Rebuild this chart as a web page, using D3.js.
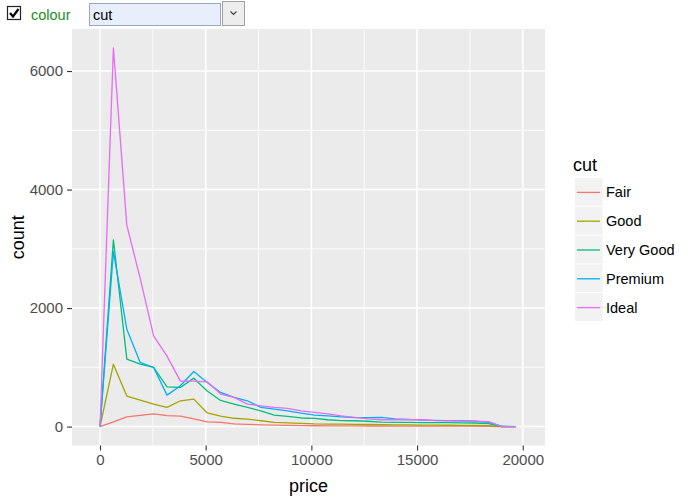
<!DOCTYPE html>
<html>
<head>
<meta charset="utf-8">
<script src="https://cdn.jsdelivr.net/npm/d3@7/dist/d3.min.js"></script>
<style>
  html, body { margin: 0; padding: 0; background: #ffffff; }
  svg { display: block; font-family: "Liberation Sans", Arial, sans-serif; }
</style>
</head>
<body>
<svg id="chart" width="693" height="501"></svg>
<script>
// ---- data ----
const cuts = ["Fair", "Good", "Very Good", "Premium", "Ideal"];
const cutColors = ["#F8766D", "#A3A500", "#00BF7D", "#00B0F6", "#E76BF3"];
const priceMids = [0, 634, 1268, 1902, 2536, 3170, 3804, 4438, 5072, 5706, 6340, 6974,
  7608, 8242, 8876, 9510, 10144, 10778, 11412, 12046, 12680, 13314, 13948, 14582,
  15216, 15850, 16484, 17118, 17752, 18386, 19020, 19654];
const fairCounts = [0, 80, 165, 190, 215, 185, 175, 130, 80, 70, 45, 38, 30, 25, 20, 15,
  14, 12, 12, 11, 10, 10, 9, 9, 8, 8, 7, 7, 6, 5, 0, 0];
const goodCounts = [0, 1053, 514, 446, 379, 323, 435, 463, 230, 175, 140, 126, 98, 71, 62, 55,
  45, 42, 40, 38, 35, 32, 30, 28, 26, 24, 22, 20, 18, 15, 0, 0];
const veryGoodCounts = [0, 3150, 1137, 1053, 997, 670, 660, 817, 600, 440, 379, 323, 266, 194, 172, 145,
  138, 115, 100, 98, 90, 75, 70, 70, 68, 66, 65, 62, 60, 50, 0, 0];
const premiumCounts = [0, 2950, 1643, 1082, 997, 531, 688, 930, 744, 576, 492, 435, 323, 295, 266, 227,
  194, 180, 165, 150, 150, 155, 130, 120, 110, 105, 100, 100, 90, 70, 5, 0];
const idealCounts = [0, 6390, 3400, 2500, 1530, 1188, 767, 767, 755, 548, 492, 379, 350, 323, 306, 266,
  239, 215, 180, 155, 130, 115, 115, 115, 115, 100, 95, 92, 90, 85, 0, 0];
const xTicks = [0, 5000, 10000, 15000, 20000];
const xMinor = [2500, 7500, 12500, 17500];
const yTicks = [0, 2000, 4000, 6000];
const yMinor = [1000, 3000, 5000];
const seriesCounts = [fairCounts, goodCounts, veryGoodCounts, premiumCounts, idealCounts];

// ---- layout ----
const svg = d3.select("#chart");
const panel = { left: 72, right: 545, top: 29, bottom: 445.5 };

const x = d3.scaleLinear().domain([-1325, 21053]).range([panel.left, panel.right]);
const yMax = d3.max(seriesCounts.flat());
const yPad = yMax * 0.05;
const y = d3.scaleLinear().domain([-yPad, yMax + yPad]).range([panel.bottom, panel.top]);

// panel background
svg.append("rect")
  .attr("x", panel.left).attr("y", panel.top)
  .attr("width", panel.right - panel.left).attr("height", panel.bottom - panel.top)
  .attr("fill", "#EBEBEB");

const grid = svg.append("g");
grid.selectAll(".xminor").data(xMinor).join("line")
  .attr("x1", d => x(d)).attr("x2", d => x(d))
  .attr("y1", panel.top).attr("y2", panel.bottom)
  .attr("stroke", "#ffffff").attr("stroke-width", 0.8);
grid.selectAll(".yminor").data(yMinor).join("line")
  .attr("y1", d => y(d)).attr("y2", d => y(d))
  .attr("x1", panel.left).attr("x2", panel.right)
  .attr("stroke", "#ffffff").attr("stroke-width", 0.8);
grid.selectAll(".xmajor").data(xTicks).join("line")
  .attr("x1", d => x(d)).attr("x2", d => x(d))
  .attr("y1", panel.top).attr("y2", panel.bottom)
  .attr("stroke", "#ffffff").attr("stroke-width", 1.6);
grid.selectAll(".ymajor").data(yTicks).join("line")
  .attr("y1", d => y(d)).attr("y2", d => y(d))
  .attr("x1", panel.left).attr("x2", panel.right)
  .attr("stroke", "#ffffff").attr("stroke-width", 1.6);

// lines
const line = d3.line().x(d => x(d[0])).y(d => y(d[1]));
const lines = svg.append("g");
cuts.forEach((c, i) => {
  const pts = priceMids.map((p, j) => [p, seriesCounts[i][j]]);
  lines.append("path")
    .attr("d", line(pts))
    .attr("fill", "none")
    .attr("stroke", cutColors[i])
    .attr("stroke-width", 1.3)
    .attr("stroke-linejoin", "round");
});

// axes
const xAxis = d3.axisBottom(x).tickValues(xTicks).tickSize(5).tickPadding(4).tickFormat(d3.format("d"));
const gx = svg.append("g").attr("transform", `translate(0,${panel.bottom})`).call(xAxis);
gx.select(".domain").remove();
gx.selectAll(".tick line").attr("stroke", "#333333").attr("stroke-width", 1.1);
gx.selectAll(".tick text").attr("fill", "#4D4D4D").attr("font-size", "15px")
  .attr("font-family", "'Liberation Sans', Arial, sans-serif");

const yAxis = d3.axisLeft(y).tickValues(yTicks).tickSize(5).tickPadding(4).tickFormat(d3.format("d"));
const gy = svg.append("g").attr("transform", `translate(${panel.left},0)`).call(yAxis);
gy.select(".domain").remove();
gy.selectAll(".tick line").attr("stroke", "#333333").attr("stroke-width", 1.1);
gy.selectAll(".tick text").attr("fill", "#4D4D4D").attr("font-size", "15px")
  .attr("font-family", "'Liberation Sans', Arial, sans-serif");

// axis titles
svg.append("text").attr("x", (panel.left + panel.right) / 2).attr("y", 492)
  .attr("text-anchor", "middle").attr("font-size", "18px").attr("fill", "#000")
  .text("price");
svg.append("text").attr("transform", `translate(24,${(panel.top + panel.bottom) / 2}) rotate(-90)`)
  .attr("text-anchor", "middle").attr("font-size", "18px").attr("fill", "#000")
  .text("count");

// legend
const legend = svg.append("g");
legend.append("text").attr("x", 573).attr("y", 171).attr("font-size", "18px").attr("fill", "#000").text("cut");
const keyTop = 178, keyH = 28.8;
cuts.forEach((c, i) => {
  const ky = keyTop + i * keyH;
  legend.append("rect").attr("x", 575).attr("y", ky).attr("width", 27.5).attr("height", keyH - 1)
    .attr("fill", "#F2F2F2");
  legend.append("line").attr("x1", 577).attr("x2", 600).attr("y1", ky + keyH / 2).attr("y2", ky + keyH / 2)
    .attr("stroke", cutColors[i]).attr("stroke-width", 1.3);
  legend.append("text").attr("x", 606).attr("y", ky + keyH / 2 + 5).attr("font-size", "14.5px")
    .attr("fill", "#000").text(c);
});

// top controls
const ui = svg.append("g");
ui.append("rect").attr("x", 7.5).attr("y", 6.5).attr("width", 13).attr("height", 13)
  .attr("fill", "#fff").attr("stroke", "#222").attr("stroke-width", 1.2);
ui.append("path").attr("d", "M10,13 L13,16.5 L18.5,9")
  .attr("fill", "none").attr("stroke", "#000").attr("stroke-width", 2.2);
ui.append("text").attr("x", 31).attr("y", 20).attr("font-size", "14.5px").attr("fill", "#1E8C1E").text("colour");
ui.append("rect").attr("x", 89.5).attr("y", 3.5).attr("width", 131).attr("height", 22)
  .attr("fill", "#E8EEFB").attr("stroke", "#9AA8C8").attr("stroke-width", 1);
ui.append("text").attr("x", 93).attr("y", 20).attr("font-size", "14.5px").attr("fill", "#000").text("cut");
ui.append("rect").attr("x", 222.5).attr("y", 1.5).attr("width", 22).attr("height", 24)
  .attr("fill", "#EDEDED").attr("stroke", "#A0A0A0").attr("stroke-width", 1);
ui.append("path").attr("d", "M230.5,11.5 L233.5,14.5 L236.5,11.5")
  .attr("fill", "none").attr("stroke", "#444").attr("stroke-width", 1.2);
</script>
</body>
</html>
